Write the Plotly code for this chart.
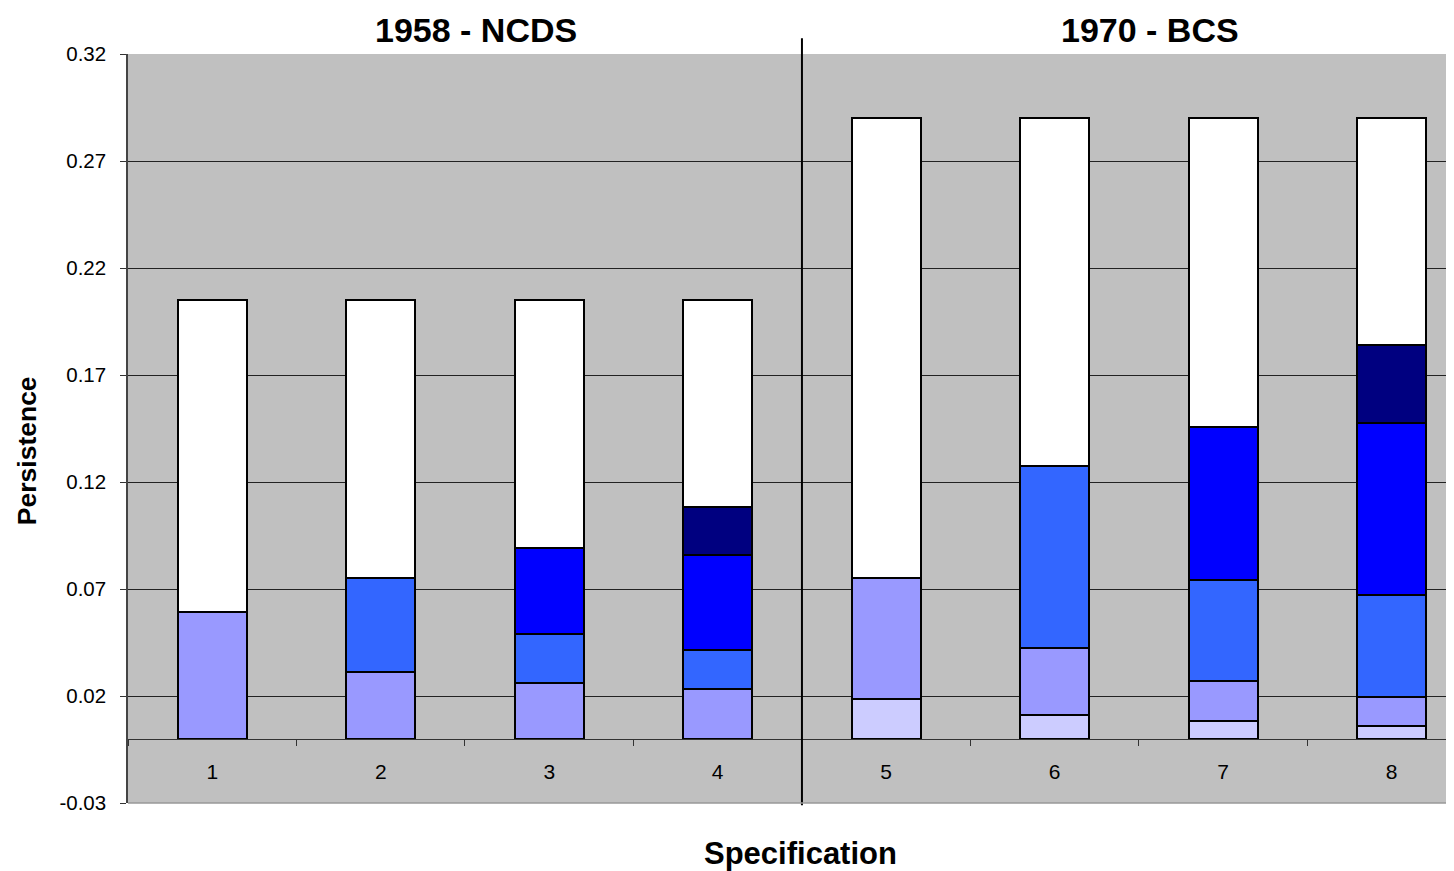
import plotly.graph_objects as go

specs = [1, 2, 3, 4, 5, 6, 7, 8]
x_tick_vals = [1, 2, 3, 4, 5, 6, 7, 8]
x_tick_text = ["1", "2", "3", "4", "5", "6", "7", "8"]
y_tick_vals = [-0.03, 0.02, 0.07, 0.12, 0.17, 0.22, 0.27, 0.32]
y_tick_text = ["-0.03", "0.02", "0.07", "0.12", "0.17", "0.22", "0.27", "0.32"]

# segment heights, bottom to top
seg_lightest = [0, 0, 0, 0, 0.0187, 0.0112, 0.0084, 0.0061]
seg_lavender = [0.0593, 0.0313, 0.0262, 0.0234, 0.0565, 0.0313, 0.0187, 0.0135]
seg_mid_blue = [None, 0.0439, 0.0229, 0.0182, None, 0.0851, 0.0472, 0.0477]
seg_blue = [None, None, 0.0402, 0.0444, None, None, 0.0715, 0.0804]
seg_navy = [None, None, None, 0.0224, None, None, None, 0.0364]
seg_white = [0.1458, 0.1299, 0.1158, 0.0967, 0.2150, 0.1626, 0.1444, 0.1061]

series = [
    ("Component 1", seg_lightest, "#CCCCFF"),
    ("Component 2", seg_lavender, "#9999FF"),
    ("Component 3", seg_mid_blue, "#3366FF"),
    ("Component 4", seg_blue, "#0000FF"),
    ("Component 5", seg_navy, "#000080"),
    ("Remainder", seg_white, "#FFFFFF"),
]

FONT = "Liberation Sans, Arial, sans-serif"

fig = go.Figure()
for name, vals, col in series:
    fig.add_trace(go.Bar(
        x=specs, y=vals, name=name, width=0.41,
        marker=dict(color=col, line=dict(color="#000000", width=2)),
        showlegend=False,
    ))

y_min, y_max = -0.03, 0.32
zero_pos = (0 - y_min) / (y_max - y_min)

fig.update_layout(
    width=1446, height=863,
    barmode="stack",
    paper_bgcolor="#FFFFFF",
    plot_bgcolor="#C0C0C0",
    margin=dict(l=120, r=0, t=46, b=68),
    font=dict(family=FONT, size=20, color="#000000"),
    xaxis=dict(
        range=[0.5, 8.37],
        tickvals=x_tick_vals, ticktext=x_tick_text,
        anchor="free", position=zero_pos,
        showline=True, linecolor="#333333", linewidth=1,
        ticks="outside", ticklen=14, tickcolor="#C0C0C0",
        minor=dict(tick0=0.5, dtick=1, ticks="outside", ticklen=6,
                   tickcolor="#333333", showgrid=False),
        showgrid=False, zeroline=False,
        tickfont=dict(size=21),
    ),
    yaxis=dict(
        range=[y_min, y_max],
        tickvals=y_tick_vals, ticktext=y_tick_text,
        showline=True, linecolor="#444444", linewidth=1.5,
        ticks="outside", ticklen=6, tickcolor="#333333",
        ticklabelstandoff=10,
        showgrid=True, gridcolor="#222222", gridwidth=1,
        zeroline=False,
        tickfont=dict(size=20.5),
    ),
    annotations=[
        dict(text="<b>1958 - NCDS</b>", x=0.2624, y=1.032, xref="paper", yref="paper",
             showarrow=False, font=dict(size=34), xanchor="center", yanchor="middle"),
        dict(text="<b>1970 - BCS</b>", x=0.7707, y=1.032, xref="paper", yref="paper",
             showarrow=False, font=dict(size=34), xanchor="center", yanchor="middle"),
        dict(text="<b>Specification</b>", x=0.5075, y=-0.0668, xref="paper", yref="paper",
             showarrow=False, font=dict(size=31), xanchor="center", yanchor="middle"),
        dict(text="<b>Persistence</b>", x=-0.0762, y=0.471, xref="paper", yref="paper",
             showarrow=False, textangle=-90, font=dict(size=26.5),
             xanchor="center", yanchor="middle"),
    ],
    shapes=[
        dict(type="line", xref="x", yref="paper", x0=4.5, x1=4.5, y0=-0.003, y1=1.021,
             line=dict(color="#000000", width=2)),
        dict(type="line", xref="paper", yref="paper", x0=0, x1=1, y0=0, y1=0,
             line=dict(color="#999999", width=1.5)),
    ],
)

fig.write_html("out.html")
